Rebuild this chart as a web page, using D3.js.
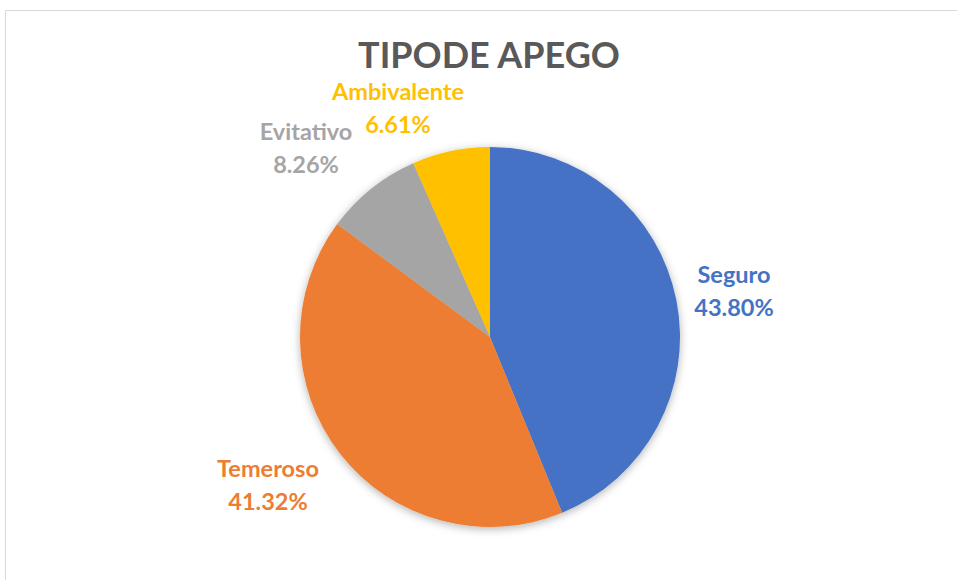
<!DOCTYPE html>
<html>
<head>
<meta charset="utf-8">
<script src="https://cdn.jsdelivr.net/npm/d3@7"></script>
<style>
  html,body{margin:0;padding:0;background:#fff;}
  svg{display:block;font-family:Lato,"Open Sans",sans-serif;}
</style>
</head>
<body>
<svg id="chart" width="957" height="580"></svg>
<script>
/* ----- data ------------------------------------------------- */
const categories = ['Seguro','Temeroso','Evitativo','Ambivalente'];
const values     = [43.80, 41.32, 8.26, 6.61];
const labels     = ['43.80%','41.32%','8.26%','6.61%'];
const colours    = ['#4472C4','#ED7D31','#A5A5A5','#FFC000'];

/* ----- setup ------------------------------------------------ */
const svg = d3.select('#chart'),
      cx  = 490, cy = 337, R = 190;

// chart frame (top + left edges visible)
svg.append('path')
  .attr('d','M5.5,580 L5.5,10.5 L957,10.5')
  .attr('fill','none').attr('stroke','#d9d9d9').attr('stroke-width',1);

svg.append('text')
  .attr('x',489).attr('y',68).attr('text-anchor','middle')
  .style('font-size','36px').style('font-weight','bold').style('fill','#595959')
  .text('TIPODE APEGO');

const defs = svg.append('defs');
const f = defs.append('filter').attr('id','shadow')
  .attr('x','-20%').attr('y','-20%').attr('width','140%').attr('height','140%');
f.append('feDropShadow').attr('dx',0).attr('dy',2).attr('stdDeviation',4)
  .attr('flood-color','#000').attr('flood-opacity',0.3);

const pie = d3.pie().sort(null).value(d=>d)(values);
const arc = d3.arc().innerRadius(0).outerRadius(R);

const g = svg.append('g').attr('transform',`translate(${cx},${cy})`);
g.append('g').attr('filter','url(#shadow)')
  .selectAll('path').data(pie).join('path')
    .attr('d',arc)
    .attr('fill',(d,i)=>colours[i]);

/* ----- labels (outside end) --------------------------------- */
const labelPos = [[734,283],[268,477],[306,140],[398,100]];
categories.forEach((c,i)=>{
  const t = svg.append('text')
    .attr('text-anchor','middle')
    .style('font-size','23.5px').style('font-weight','bold')
    .style('fill', colours[i]);
  t.append('tspan').attr('x',labelPos[i][0]).attr('y',labelPos[i][1]).text(c);
  t.append('tspan').attr('x',labelPos[i][0]).attr('y',labelPos[i][1]+33).text(labels[i]);
});
</script>
</body>
</html>
